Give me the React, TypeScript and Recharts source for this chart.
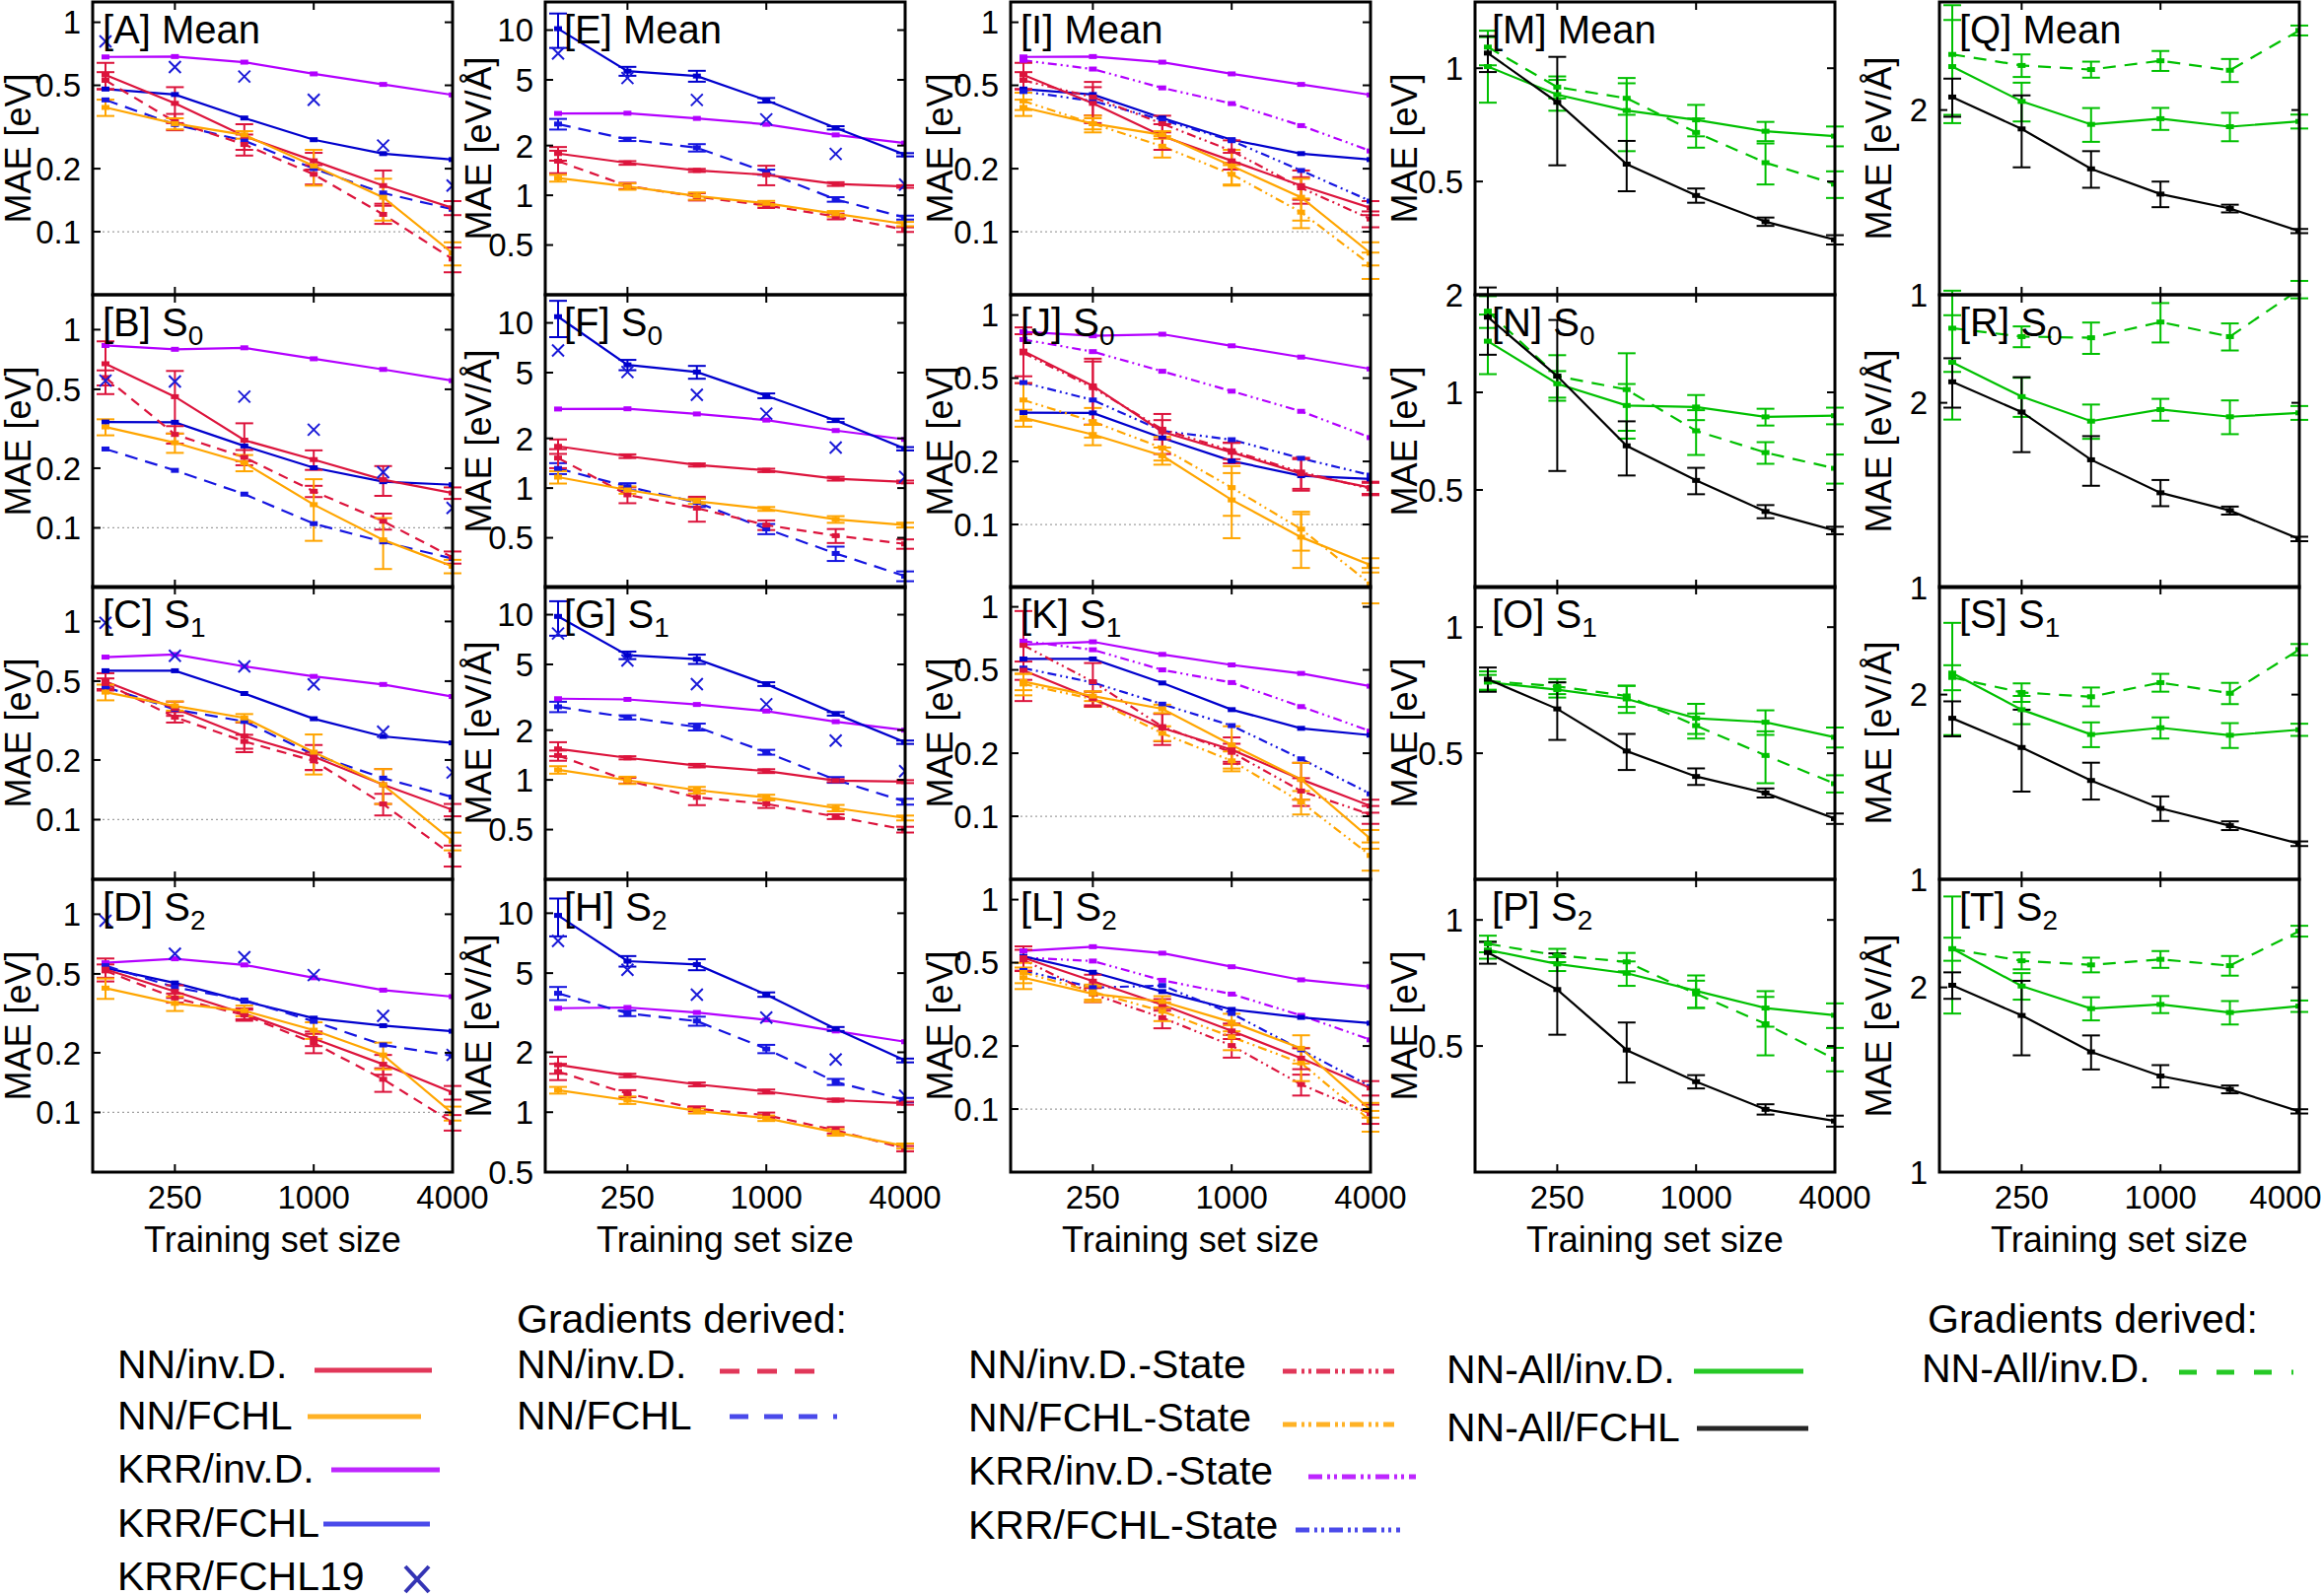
import React from 'react';
import { LineChart, Line, XAxis, YAxis, ErrorBar, ReferenceLine } from 'recharts';

const FONT = '"Liberation Sans", Arial, Helvetica, sans-serif';
const W = 2355;
const H = 1619;
const COL_LEFT = [94, 553, 1025, 1496, 1967];
const ROW_TOP = [2, 299, 595, 892];
const PW = 365;
const PH = 297;
const YW = 90;
const XH = 70;
const TM = 24;
const XR = 50;
const TICK = 8;

// training set sizes (x) and tick labels
const N = [125, 250, 500, 1000, 2000, 4000];
const X_TICKS = [250, 1000, 4000];
const X_DOMAIN = [110, 4000];
const E_TICKS = [0.1, 0.2, 0.5, 1];
const F_TICKS = [0.5, 1, 2, 5, 10];
const M_TICKS = [0.5, 1, 2];
const Q_TICKS = [1, 2];

// ---- energies, NN / KRR (panels A-D, reused for I-L) ----
const nnInvA = [0.56, 0.41, 0.286, 0.218, 0.166, 0.13];
const nnInvA_e = [0.08, 0.08, 0.04, 0.02, 0.03, 0.01];
const nnFchlA = [0.392, 0.328, 0.29, 0.206, 0.146, 0.079];
const nnFchlA_e = [0.035, 0.02, 0.012, 0.04, 0.033, 0.01];
const krrInvA = [0.683, 0.686, 0.645, 0.567, 0.505, 0.45];
const krrFchlA = [0.48, 0.452, 0.349, 0.275, 0.236, 0.221];
const fchl19A = [0.81, 0.611, 0.551, 0.426, 0.258, 0.166];
const gdInvA = [0.528, 0.335, 0.261, 0.188, 0.121, 0.074];
const gdInvA_e = [0.05, 0.03, 0.03, 0.02, 0.012, 0.01];
const gdFchlA = [0.426, 0.325, 0.272, 0.2, 0.153, 0.128];

const nnInvB = [0.673, 0.459, 0.277, 0.221, 0.175, 0.15];
const nnInvB_e = [0.2, 0.16, 0.06, 0.025, 0.03, 0.01];
const nnFchlB = [0.323, 0.269, 0.213, 0.131, 0.087, 0.064];
const nnFchlB_e = [0.03, 0.03, 0.02, 0.045, 0.025, 0.005];
const krrInvB = [0.832, 0.796, 0.81, 0.713, 0.63, 0.553];
const krrFchlB = [0.342, 0.341, 0.259, 0.201, 0.171, 0.165];
const fchl19B = [0.553, 0.548, 0.459, 0.313, 0.191, 0.126];
const gdInvB = [0.573, 0.296, 0.227, 0.153, 0.108, 0.071];
const gdInvB_e = [0.05, 0.03, 0.02, 0.01, 0.01, 0.005];
const gdFchlB = [0.25, 0.195, 0.148, 0.105, 0.085, 0.07];

const nnInvC = [0.498, 0.364, 0.264, 0.208, 0.15, 0.112];
const nnInvC_e = [0.05, 0.03, 0.045, 0.03, 0.03, 0.008];
const nnFchlC = [0.44, 0.375, 0.326, 0.219, 0.15, 0.078];
const nnFchlC_e = [0.04, 0.02, 0.015, 0.05, 0.03, 0.008];
const krrInvC = [0.661, 0.681, 0.593, 0.528, 0.481, 0.418];
const krrFchlC = [0.564, 0.564, 0.433, 0.323, 0.263, 0.244];
const fchl19C = [0.985, 0.671, 0.593, 0.481, 0.278, 0.173];
const gdInvC = [0.486, 0.329, 0.248, 0.198, 0.12, 0.066];
const gdInvC_e = [0.03, 0.02, 0.02, 0.02, 0.015, 0.008];
const gdFchlC = [0.467, 0.36, 0.313, 0.213, 0.162, 0.13];

const nnInvD = [0.528, 0.408, 0.315, 0.236, 0.175, 0.126];
const nnInvD_e = [0.07, 0.03, 0.02, 0.02, 0.02, 0.01];
const nnFchlD = [0.424, 0.355, 0.326, 0.26, 0.195, 0.099];
const nnFchlD_e = [0.05, 0.03, 0.02, 0.025, 0.03, 0.008];
const krrInvD = [0.569, 0.596, 0.555, 0.478, 0.414, 0.384];
const krrFchlD = [0.536, 0.45, 0.364, 0.299, 0.274, 0.257];
const fchl19D = [0.928, 0.632, 0.607, 0.493, 0.307, 0.195];
const gdInvD = [0.518, 0.378, 0.31, 0.224, 0.147, 0.089];
const gdInvD_e = [0.04, 0.02, 0.02, 0.025, 0.02, 0.008];
const gdFchlD = [0.55, 0.428, 0.369, 0.288, 0.219, 0.193];

// ---- forces (panels E-H) ----
const nnInvE = [1.79, 1.57, 1.415, 1.33, 1.17, 1.13];
const nnInvE_e = [0.17, 0.04, 0.03, 0.18, 0.03, 0.02];
const nnFchlE = [1.27, 1.13, 0.99, 0.895, 0.773, 0.67];
const nnFchlE_e = [0.06, 0.05, 0.05, 0.03, 0.03, 0.02];
const krrInvE = [3.13, 3.14, 2.92, 2.69, 2.32, 2.07];
const krrFchlE = [10.2, 5.64, 5.27, 3.76, 2.56, 1.76];
const krrFchlE_e = [2.4, 0.35, 0.4, 0.12, 0.06, 0.04];
const fchl19E = [7.22, 5.13, 3.78, 2.88, 1.78, 1.16];
const gdInvE = [1.61, 1.14, 0.98, 0.868, 0.745, 0.62];
const gdInvE_e = [0.25, 0.05, 0.05, 0.03, 0.03, 0.02];
const gdFchlE = [2.7, 2.18, 1.94, 1.38, 0.944, 0.733];
const gdFchlE_e = [0.2, 0.05, 0.1, 0.05, 0.03, 0.02];

const nnInvF = [1.79, 1.56, 1.38, 1.28, 1.14, 1.09];
const nnInvF_e = [0.18, 0.04, 0.03, 0.03, 0.03, 0.02];
const nnFchlF = [1.165, 0.974, 0.832, 0.748, 0.646, 0.597];
const nnFchlF_e = [0.1, 0.05, 0.03, 0.02, 0.03, 0.02];
const krrInvF = [3.01, 3.02, 2.81, 2.58, 2.23, 1.97];
const krrFchlF = [10.9, 5.57, 5.04, 3.62, 2.57, 1.73];
const krrFchlF_e = [2.7, 0.4, 0.45, 0.12, 0.06, 0.04];
const fchl19F = [6.81, 5.04, 3.67, 2.82, 1.76, 1.17];
const gdInvF = [1.52, 0.91, 0.756, 0.597, 0.515, 0.459];
const gdInvF_e = [0.2, 0.1, 0.13, 0.04, 0.05, 0.03];
const gdFchlF = [1.315, 1.02, 0.819, 0.566, 0.402, 0.293];
const gdFchlF_e = [0.1, 0.05, 0.05, 0.04, 0.04, 0.02];

const nnInvG = [1.54, 1.36, 1.22, 1.13, 0.99, 0.976];
const nnInvG_e = [0.15, 0.03, 0.03, 0.03, 0.02, 0.02];
const nnFchlG = [1.15, 0.995, 0.867, 0.783, 0.675, 0.588];
const nnFchlG_e = [0.06, 0.05, 0.04, 0.03, 0.03, 0.02];
const krrInvG = [3.1, 3.07, 2.86, 2.61, 2.25, 2.0];
const krrFchlG = [9.76, 5.68, 5.38, 3.8, 2.51, 1.69];
const krrFchlG_e = [2.3, 0.3, 0.35, 0.1, 0.06, 0.04];
const fchl19G = [7.69, 5.28, 3.8, 2.87, 1.73, 1.13];
const gdInvG = [1.405, 0.99, 0.783, 0.716, 0.599, 0.5];
const gdInvG_e = [0.1, 0.04, 0.08, 0.04, 0.02, 0.02];
const gdFchlG = [2.77, 2.39, 2.09, 1.47, 1.0, 0.738];
const gdFchlG_e = [0.2, 0.07, 0.1, 0.05, 0.04, 0.03];

const nnInvH = [1.73, 1.53, 1.38, 1.27, 1.15, 1.11];
const nnInvH_e = [0.17, 0.03, 0.03, 0.03, 0.02, 0.02];
const nnFchlH = [1.29, 1.15, 1.015, 0.933, 0.792, 0.676];
const nnFchlH_e = [0.05, 0.05, 0.03, 0.03, 0.03, 0.02];
const krrInvH = [3.33, 3.36, 3.17, 2.91, 2.56, 2.26];
const krrFchlH = [9.75, 5.74, 5.52, 3.9, 2.62, 1.82];
const krrFchlH_e = [2.1, 0.35, 0.35, 0.1, 0.06, 0.04];
const fchl19H = [7.25, 5.2, 3.9, 2.99, 1.84, 1.21];
const gdInvH = [1.6, 1.24, 1.04, 0.966, 0.812, 0.656];
const gdInvH_e = [0.15, 0.05, 0.03, 0.03, 0.03, 0.02];
const gdFchlH = [3.96, 3.14, 2.87, 2.08, 1.42, 1.15];
const gdFchlH_e = [0.3, 0.1, 0.15, 0.1, 0.05, 0.03];

// ---- state-specific models (panels I-L) ----
const redStI = [0.528, 0.439, 0.328, 0.243, 0.162, 0.115];
const redStI_e = [0.05, 0.08, 0.03, 0.03, 0.02, 0.01];
const orStI = [0.421, 0.328, 0.256, 0.188, 0.124, 0.0695];
const orStI_e = [0.04, 0.03, 0.03, 0.02, 0.02, 0.01];
const magStI = [0.658, 0.598, 0.486, 0.409, 0.321, 0.243];
const bluStI = [0.467, 0.421, 0.342, 0.272, 0.196, 0.14];

const redStJ = [0.66, 0.45, 0.285, 0.225, 0.178, 0.148];
const redStJ_e = [0.15, 0.15, 0.03, 0.02, 0.03, 0.01];
const orStJ = [0.393, 0.31, 0.232, 0.15, 0.095, 0.052];
const orStJ_e = [0.08, 0.05, 0.03, 0.04, 0.02, 0.01];
const magStJ = [0.764, 0.669, 0.539, 0.433, 0.347, 0.26];
const bluStJ = [0.476, 0.393, 0.28, 0.254, 0.207, 0.172];

const redStK = [0.655, 0.439, 0.268, 0.202, 0.132, 0.102];
const redStK_e = [0.3, 0.1, 0.04, 0.02, 0.02, 0.01];
const orStK = [0.428, 0.363, 0.249, 0.184, 0.117, 0.065];
const orStK_e = [0.05, 0.03, 0.02, 0.02, 0.015, 0.01];
const magStK = [0.686, 0.624, 0.5, 0.435, 0.334, 0.255];
const bluStK = [0.51, 0.435, 0.343, 0.271, 0.188, 0.128];

const redStL = [0.516, 0.354, 0.273, 0.201, 0.131, 0.095];
const redStL_e = [0.06, 0.03, 0.03, 0.025, 0.015, 0.01];
const orStL = [0.449, 0.363, 0.293, 0.221, 0.166, 0.088];
const orStL_e = [0.05, 0.03, 0.03, 0.03, 0.03, 0.01];
const magStL = [0.529, 0.509, 0.412, 0.354, 0.28, 0.214];
const bluStL = [0.459, 0.38, 0.389, 0.286, 0.192, 0.128];

// ---- NN-All energies (panels M-P) ----
const blackM = [1.097, 0.812, 0.556, 0.459, 0.391, 0.35];
const blackM_e = [0.12, 0.26, 0.085, 0.02, 0.01, 0.01];
const greenM = [1.01, 0.851, 0.772, 0.729, 0.68, 0.66];
const greenM_e = [0.2, 0.08, 0.17, 0.07, 0.04, 0.04];
const gdGreenM = [1.138, 0.891, 0.832, 0.675, 0.561, 0.492];
const gdGreenM_e = [0.12, 0.06, 0.08, 0.06, 0.07, 0.04];

const blackN = [1.706, 1.122, 0.684, 0.535, 0.429, 0.375];
const blackN_e = [0.4, 0.55, 0.13, 0.05, 0.02, 0.01];
const greenN = [1.438, 1.063, 0.911, 0.901, 0.84, 0.847];
const greenN_e = [0.3, 0.1, 0.15, 0.08, 0.05, 0.05];
const gdGreenN = [1.78, 1.122, 1.02, 0.761, 0.652, 0.583];
const gdGreenN_e = [0.2, 0.18, 0.3, 0.12, 0.05, 0.06];

const blackO = [0.751, 0.638, 0.506, 0.44, 0.402, 0.349];
const blackO_e = [0.05, 0.1, 0.05, 0.02, 0.01, 0.01];
const greenO = [0.739, 0.709, 0.674, 0.606, 0.593, 0.546];
const greenO_e = [0.03, 0.03, 0.05, 0.05, 0.04, 0.03];
const gdGreenO = [0.744, 0.722, 0.685, 0.582, 0.494, 0.423];
const gdGreenO_e = [0.04, 0.03, 0.04, 0.04, 0.07, 0.02];

const blackP = [0.836, 0.682, 0.489, 0.411, 0.353, 0.331];
const blackP_e = [0.05, 0.15, 0.08, 0.015, 0.01, 0.01];
const greenP = [0.848, 0.785, 0.746, 0.677, 0.616, 0.592];
const greenP_e = [0.04, 0.03, 0.05, 0.06, 0.06, 0.04];
const gdGreenP = [0.877, 0.823, 0.794, 0.666, 0.565, 0.465];
const gdGreenP_e = [0.04, 0.03, 0.04, 0.05, 0.09, 0.03];

// ---- NN-All forces (panels Q-T) ----
const blackQ = [2.1, 1.863, 1.604, 1.459, 1.382, 1.27];
const blackQ_e = [0.15, 0.25, 0.11, 0.07, 0.02, 0.01];
const greenQ = [2.354, 2.066, 1.895, 1.936, 1.879, 1.916];
const greenQ_e = [0.45, 0.15, 0.12, 0.08, 0.1, 0.05];
const gdGreenQ = [2.464, 2.364, 2.328, 2.406, 2.322, 2.696];
const gdGreenQ_e = [0.5, 0.1, 0.07, 0.09, 0.1, 0.05];

const blackR = [2.164, 1.932, 1.615, 1.427, 1.335, 1.2];
const blackR_e = [0.2, 0.27, 0.15, 0.07, 0.02, 0.01];
const greenR = [2.328, 2.047, 1.867, 1.95, 1.898, 1.926];
const greenR_e = [0.45, 0.15, 0.12, 0.08, 0.12, 0.05];
const gdGreenR = [2.646, 2.564, 2.553, 2.708, 2.564, 3.06];
const gdGreenR_e = [0.4, 0.1, 0.15, 0.2, 0.13, 0.1];

const blackS = [1.83, 1.64, 1.449, 1.305, 1.223, 1.143];
const blackS_e = [0.12, 0.25, 0.1, 0.06, 0.02, 0.01];
const greenS = [2.168, 1.89, 1.722, 1.766, 1.717, 1.753];
const greenS_e = [0.45, 0.1, 0.08, 0.07, 0.08, 0.04];
const gdGreenS = [2.133, 2.016, 1.984, 2.092, 2.01, 2.368];
const gdGreenS_e = [0.1, 0.07, 0.07, 0.07, 0.08, 0.05];

const blackT = [2.016, 1.8, 1.57, 1.434, 1.364, 1.256];
const blackT_e = [0.1, 0.25, 0.1, 0.06, 0.02, 0.01];
const greenT = [2.313, 2.01, 1.847, 1.876, 1.82, 1.864];
const greenT_e = [0.5, 0.1, 0.08, 0.06, 0.08, 0.04];
const gdGreenT = [2.31, 2.21, 2.176, 2.222, 2.17, 2.47];
const gdGreenT_e = [0.1, 0.07, 0.06, 0.07, 0.08, 0.05];

const C = {
  red: '#dc143c',
  orange: '#ffa500',
  magenta: '#b300ff',
  blue: '#0000cd',
  blueX: '#1a1ad8',
  blueDash: '#1515e0',
  green: '#00c000',
  black: '#000000',
};
const DASH_R = '10 7';
const DASH_B = '13 8';
const DASH_DD = '9 4 2 4 2 4';
const DASH_G = '13 9';

type S = { key: string; v: number[]; e?: number[]; color: string; dash?: string; cross?: boolean };
type PanelDef = {
  letter: string;
  name: string;
  sub?: string;
  col: number;
  row: number;
  domain: [number, number];
  ticks: number[];
  ref01?: boolean;
  series: S[];
};

const col12 = (d: any): S[] => [
  { key: 'krrInv', v: d.krrInv, color: C.magenta },
  { key: 'krrFchl', v: d.krrFchl, e: d.krrFchlE, color: C.blue },
  { key: 'gdFchl', v: d.gdFchl, e: d.gdFchlE, color: C.blueDash, dash: DASH_B },
  { key: 'gdInv', v: d.gdInv, e: d.gdInvE, color: C.red, dash: DASH_R },
  { key: 'nnInv', v: d.nnInv, e: d.nnInvE, color: C.red },
  { key: 'nnFchl', v: d.nnFchl, e: d.nnFchlE, color: C.orange },
  { key: 'fchl19', v: d.fchl19, color: C.blueX, cross: true },
];

const col3 = (d: any): S[] => [
  { key: 'krrInv', v: d.krrInv, color: C.magenta },
  { key: 'magSt', v: d.magSt, color: C.magenta, dash: DASH_DD },
  { key: 'krrFchl', v: d.krrFchl, color: C.blue },
  { key: 'bluSt', v: d.bluSt, color: C.blueDash, dash: DASH_DD },
  { key: 'redSt', v: d.redSt, e: d.redStE, color: C.red, dash: DASH_DD },
  { key: 'orSt', v: d.orSt, e: d.orStE, color: C.orange, dash: DASH_DD },
  { key: 'nnInv', v: d.nnInv, e: d.nnInvE, color: C.red },
  { key: 'nnFchl', v: d.nnFchl, e: d.nnFchlE, color: C.orange },
];

const col45 = (d: any): S[] => [
  { key: 'gdGreen', v: d.gdGreen, e: d.gdGreenE, color: C.green, dash: DASH_G },
  { key: 'green', v: d.green, e: d.greenE, color: C.green },
  { key: 'black', v: d.black, e: d.blackE, color: C.black },
];

const PANELS: PanelDef[] = [
  { letter: 'A', name: 'Mean', col: 0, row: 0, domain: [0.05, 1.25], ticks: E_TICKS, ref01: true,
    series: col12({ krrInv: krrInvA, krrFchl: krrFchlA, gdFchl: gdFchlA, gdInv: gdInvA, gdInvE: gdInvA_e, nnInv: nnInvA, nnInvE: nnInvA_e, nnFchl: nnFchlA, nnFchlE: nnFchlA_e, fchl19: fchl19A }) },
  { letter: 'B', name: 'S', sub: '0', col: 0, row: 1, domain: [0.05, 1.5], ticks: E_TICKS, ref01: true,
    series: col12({ krrInv: krrInvB, krrFchl: krrFchlB, gdFchl: gdFchlB, gdInv: gdInvB, gdInvE: gdInvB_e, nnInv: nnInvB, nnInvE: nnInvB_e, nnFchl: nnFchlB, nnFchlE: nnFchlB_e, fchl19: fchl19B }) },
  { letter: 'C', name: 'S', sub: '1', col: 0, row: 2, domain: [0.05, 1.5], ticks: E_TICKS, ref01: true,
    series: col12({ krrInv: krrInvC, krrFchl: krrFchlC, gdFchl: gdFchlC, gdInv: gdInvC, gdInvE: gdInvC_e, nnInv: nnInvC, nnInvE: nnInvC_e, nnFchl: nnFchlC, nnFchlE: nnFchlC_e, fchl19: fchl19C }) },
  { letter: 'D', name: 'S', sub: '2', col: 0, row: 3, domain: [0.05, 1.5], ticks: E_TICKS, ref01: true,
    series: col12({ krrInv: krrInvD, krrFchl: krrFchlD, gdFchl: gdFchlD, gdInv: gdInvD, gdInvE: gdInvD_e, nnInv: nnInvD, nnInvE: nnInvD_e, nnFchl: nnFchlD, nnFchlE: nnFchlD_e, fchl19: fchl19D }) },

  { letter: 'E', name: 'Mean', col: 1, row: 0, domain: [0.25, 14.8], ticks: F_TICKS,
    series: col12({ krrInv: krrInvE, krrFchl: krrFchlE, krrFchlE: krrFchlE_e, gdFchl: gdFchlE, gdFchlE: gdFchlE_e, gdInv: gdInvE, gdInvE: gdInvE_e, nnInv: nnInvE, nnInvE: nnInvE_e, nnFchl: nnFchlE, nnFchlE: nnFchlE_e, fchl19: fchl19E }) },
  { letter: 'F', name: 'S', sub: '0', col: 1, row: 1, domain: [0.25, 14.8], ticks: F_TICKS,
    series: col12({ krrInv: krrInvF, krrFchl: krrFchlF, krrFchlE: krrFchlF_e, gdFchl: gdFchlF, gdFchlE: gdFchlF_e, gdInv: gdInvF, gdInvE: gdInvF_e, nnInv: nnInvF, nnInvE: nnInvF_e, nnFchl: nnFchlF, nnFchlE: nnFchlF_e, fchl19: fchl19F }) },
  { letter: 'G', name: 'S', sub: '1', col: 1, row: 2, domain: [0.25, 14.8], ticks: F_TICKS,
    series: col12({ krrInv: krrInvG, krrFchl: krrFchlG, krrFchlE: krrFchlG_e, gdFchl: gdFchlG, gdFchlE: gdFchlG_e, gdInv: gdInvG, gdInvE: gdInvG_e, nnInv: nnInvG, nnInvE: nnInvG_e, nnFchl: nnFchlG, nnFchlE: nnFchlG_e, fchl19: fchl19G }) },
  { letter: 'H', name: 'S', sub: '2', col: 1, row: 3, domain: [0.5, 14.8], ticks: F_TICKS,
    series: col12({ krrInv: krrInvH, krrFchl: krrFchlH, krrFchlE: krrFchlH_e, gdFchl: gdFchlH, gdFchlE: gdFchlH_e, gdInv: gdInvH, gdInvE: gdInvH_e, nnInv: nnInvH, nnInvE: nnInvH_e, nnFchl: nnFchlH, nnFchlE: nnFchlH_e, fchl19: fchl19H }) },

  { letter: 'I', name: 'Mean', col: 2, row: 0, domain: [0.05, 1.25], ticks: E_TICKS, ref01: true,
    series: col3({ krrInv: krrInvA, krrFchl: krrFchlA, nnInv: nnInvA, nnInvE: nnInvA_e, nnFchl: nnFchlA, nnFchlE: nnFchlA_e, magSt: magStI, bluSt: bluStI, redSt: redStI, redStE: redStI_e, orSt: orStI, orStE: orStI_e }) },
  { letter: 'J', name: 'S', sub: '0', col: 2, row: 1, domain: [0.05, 1.25], ticks: E_TICKS, ref01: true,
    series: col3({ krrInv: krrInvB, krrFchl: krrFchlB, nnInv: nnInvB, nnInvE: nnInvB_e, nnFchl: nnFchlB, nnFchlE: nnFchlB_e, magSt: magStJ, bluSt: bluStJ, redSt: redStJ, redStE: redStJ_e, orSt: orStJ, orStE: orStJ_e }) },
  { letter: 'K', name: 'S', sub: '1', col: 2, row: 2, domain: [0.05, 1.25], ticks: E_TICKS, ref01: true,
    series: col3({ krrInv: krrInvC, krrFchl: krrFchlC, nnInv: nnInvC, nnInvE: nnInvC_e, nnFchl: nnFchlC, nnFchlE: nnFchlC_e, magSt: magStK, bluSt: bluStK, redSt: redStK, redStE: redStK_e, orSt: orStK, orStE: orStK_e }) },
  { letter: 'L', name: 'S', sub: '2', col: 2, row: 3, domain: [0.05, 1.25], ticks: E_TICKS, ref01: true,
    series: col3({ krrInv: krrInvD, krrFchl: krrFchlD, nnInv: nnInvD, nnInvE: nnInvD_e, nnFchl: nnFchlD, nnFchlE: nnFchlD_e, magSt: magStL, bluSt: bluStL, redSt: redStL, redStE: redStL_e, orSt: orStL, orStE: orStL_e }) },

  { letter: 'M', name: 'Mean', col: 3, row: 0, domain: [0.25, 1.5], ticks: M_TICKS,
    series: col45({ black: blackM, blackE: blackM_e, green: greenM, greenE: greenM_e, gdGreen: gdGreenM, gdGreenE: gdGreenM_e }) },
  { letter: 'N', name: 'S', sub: '0', col: 3, row: 1, domain: [0.25, 2], ticks: M_TICKS,
    series: col45({ black: blackN, blackE: blackN_e, green: greenN, greenE: greenN_e, gdGreen: gdGreenN, gdGreenE: gdGreenN_e }) },
  { letter: 'O', name: 'S', sub: '1', col: 3, row: 2, domain: [0.25, 1.25], ticks: M_TICKS,
    series: col45({ black: blackO, blackE: blackO_e, green: greenO, greenE: greenO_e, gdGreen: gdGreenO, gdGreenE: gdGreenO_e }) },
  { letter: 'P', name: 'S', sub: '2', col: 3, row: 3, domain: [0.25, 1.25], ticks: M_TICKS,
    series: col45({ black: blackP, blackE: blackP_e, green: greenP, greenE: greenP_e, gdGreen: gdGreenP, gdGreenE: gdGreenP_e }) },

  { letter: 'Q', name: 'Mean', col: 4, row: 0, domain: [1, 3], ticks: Q_TICKS,
    series: col45({ black: blackQ, blackE: blackQ_e, green: greenQ, greenE: greenQ_e, gdGreen: gdGreenQ, gdGreenE: gdGreenQ_e }) },
  { letter: 'R', name: 'S', sub: '0', col: 4, row: 1, domain: [1, 3], ticks: Q_TICKS,
    series: col45({ black: blackR, blackE: blackR_e, green: greenR, greenE: greenR_e, gdGreen: gdGreenR, gdGreenE: gdGreenR_e }) },
  { letter: 'S', name: 'S', sub: '1', col: 4, row: 2, domain: [1, 3], ticks: Q_TICKS,
    series: col45({ black: blackS, blackE: blackS_e, green: greenS, greenE: greenS_e, gdGreen: gdGreenS, gdGreenE: gdGreenS_e }) },
  { letter: 'T', name: 'S', sub: '2', col: 4, row: 3, domain: [1, 3], ticks: Q_TICKS,
    series: col45({ black: blackT, blackE: blackT_e, green: greenT, greenE: greenT_e, gdGreen: gdGreenT, gdGreenE: gdGreenT_e }) },
];

const Y_LABEL = ['MAE [eV]', 'MAE [eV/Å]', 'MAE [eV]', 'MAE [eV]', 'MAE [eV/Å]'];
const Y_LABEL_OFF = [76, 68, 72, 72, 62];
const TITLE_OFF = [10, 19, 10, 17, 20];

const capDot = (color: string) => (p: any) => {
  if (p.cx == null || p.cy == null) return <g key={`c${p.index}`} />;
  return <rect key={`c${p.index}`} x={p.cx - 4} y={p.cy - 2.5} width={8} height={5} fill={color} />;
};

const crossDot = (color: string) => (p: any) => {
  if (p.cx == null || p.cy == null) return <g key={`x${p.index}`} />;
  const s = 6;
  return (
    <path
      key={`x${p.index}`}
      d={`M${p.cx - s},${p.cy - s}L${p.cx + s},${p.cy + s}M${p.cx - s},${p.cy + s}L${p.cx + s},${p.cy - s}`}
      stroke={color}
      strokeWidth={2}
      fill="none"
    />
  );
};

function Panel({ p }: { p: PanelDef }) {
  const data = N.map((n, i) => {
    const row: Record<string, number> = { n };
    p.series.forEach((s) => {
      row[s.key] = s.v[i];
      if (s.e) row[s.key + '_e'] = s.e[i];
    });
    return row;
  });
  const bottom = p.row === 3;

  const xTick = (t: any) => {
    const v = t.payload.value;
    const shift = p.col === 4 && v === 4000 ? -14 : 0;
    return (
      <g>
        <line x1={t.x} x2={t.x} y1={TM + PH} y2={TM + PH - TICK} stroke="#000" strokeWidth={2} />
        <line x1={t.x} x2={t.x} y1={TM} y2={TM + TICK} stroke="#000" strokeWidth={2} />
        {bottom && (
          <text x={t.x + shift} y={TM + PH + 37} textAnchor="middle" fontSize={33} fontFamily={FONT} fill="#000">
            {v}
          </text>
        )}
      </g>
    );
  };

  const yTick = (t: any) => (
    <g>
      <line x1={YW} x2={YW + TICK} y1={t.y} y2={t.y} stroke="#000" strokeWidth={2} />
      <line x1={YW + PW} x2={YW + PW - TICK} y1={t.y} y2={t.y} stroke="#000" strokeWidth={2} />
      <text x={YW - 12} y={t.y} dy="0.36em" textAnchor="end" fontSize={33} fontFamily={FONT} fill="#000">
        {t.payload.value}
      </text>
    </g>
  );

  return (
    <div style={{ position: 'absolute', left: COL_LEFT[p.col] - YW, top: ROW_TOP[p.row] - TM }}>
      <LineChart
        width={YW + PW + XR}
        height={TM + PH + XH}
        data={data}
        margin={{ top: TM, right: XR, bottom: 0, left: 0 }}
      >
        <XAxis
          dataKey="n"
          type="number"
          scale="log"
          domain={X_DOMAIN}
          allowDataOverflow
          ticks={X_TICKS}
          interval={0}
          height={XH}
          tick={xTick}
          tickLine={false}
          axisLine={false}
        />
        <YAxis
          type="number"
          scale="log"
          domain={p.domain}
          allowDataOverflow
          ticks={p.ticks}
          interval={0}
          width={YW}
          tick={yTick}
          tickLine={false}
          axisLine={false}
        />
        {p.ref01 && <ReferenceLine y={0.1} stroke="#a0a0a0" strokeDasharray="2 3" strokeWidth={1.2} />}
        {p.series.map((s) => (
          <Line
            key={s.key}
            dataKey={s.key}
            type="linear"
            stroke={s.cross ? 'none' : s.color}
            strokeWidth={2.2}
            strokeDasharray={s.dash}
            dot={s.cross ? crossDot(s.color) : capDot(s.color)}
            activeDot={false}
            isAnimationActive={false}
            legendType="none"
          >
            {s.e && (
              <ErrorBar
                dataKey={s.key + '_e'}
                width={9}
                stroke={s.color}
                strokeWidth={2}
                direction="y"
                isAnimationActive={false}
              />
            )}
          </Line>
        ))}
      </LineChart>
    </div>
  );
}

type LegendItem = { text: string; tx: number; ty: number; x1?: number; x2?: number; ly?: number; color?: string; dash?: string; cross?: boolean };

const LEGEND: LegendItem[] = [
  { text: 'NN/inv.D.', tx: 119, ty: 1383, x1: 319, x2: 438, ly: 1390, color: C.red },
  { text: 'NN/FCHL', tx: 119, ty: 1435, x1: 312, x2: 427, ly: 1437, color: C.orange },
  { text: 'KRR/inv.D.', tx: 119, ty: 1489, x1: 336, x2: 446, ly: 1491, color: C.magenta },
  { text: 'KRR/FCHL', tx: 119, ty: 1544, x1: 328, x2: 436, ly: 1546, color: '#2a2ae6' },
  { text: 'KRR/FCHL19', tx: 119, ty: 1598, x1: 423, ly: 1602, color: '#3434b4', cross: true },
  { text: 'Gradients derived:', tx: 524, ty: 1337 },
  { text: 'NN/inv.D.', tx: 524, ty: 1383, x1: 730, x2: 830, ly: 1391, color: C.red, dash: '20 18' },
  { text: 'NN/FCHL', tx: 524, ty: 1435, x1: 740, x2: 849, ly: 1437, color: '#2a2ae6', dash: '19 16' },
  { text: 'NN/inv.D.-State', tx: 982, ty: 1383, x1: 1301, x2: 1414, ly: 1391, color: C.red, dash: '14 5 3 4 3 5' },
  { text: 'NN/FCHL-State', tx: 982, ty: 1437, x1: 1301, x2: 1414, ly: 1445, color: C.orange, dash: '14 5 3 4 3 5' },
  { text: 'KRR/inv.D.-State', tx: 982, ty: 1491, x1: 1327, x2: 1436, ly: 1498, color: C.magenta, dash: '14 5 3 4 3 5' },
  { text: 'KRR/FCHL-State', tx: 982, ty: 1546, x1: 1314, x2: 1420, ly: 1552, color: '#2a2ae6', dash: '14 5 3 4 3 5' },
  { text: 'NN-All/inv.D.', tx: 1467, ty: 1388, x1: 1718, x2: 1829, ly: 1391, color: C.green },
  { text: 'NN-All/FCHL', tx: 1467, ty: 1447, x1: 1721, x2: 1834, ly: 1449, color: C.black },
  { text: 'Gradients derived:', tx: 1955, ty: 1337 },
  { text: 'NN-All/inv.D.', tx: 1949, ty: 1387, x1: 2210, x2: 2326, ly: 1392, color: C.green, dash: '18 20' },
];

function Overlay() {
  return (
    <svg width={W} height={H} style={{ position: 'absolute', left: 0, top: 0, pointerEvents: 'none' }} fontFamily={FONT}>
      {PANELS.map((p) => (
        <rect
          key={`f${p.letter}`}
          x={COL_LEFT[p.col]}
          y={ROW_TOP[p.row]}
          width={PW}
          height={PH}
          fill="none"
          stroke="#000"
          strokeWidth={3}
        />
      ))}
      {PANELS.map((p) => (
        <text key={`t${p.letter}`} x={COL_LEFT[p.col] + TITLE_OFF[p.col]} y={ROW_TOP[p.row] + 42} fontSize={40} fill="#000">
          <tspan>{`[${p.letter}] ${p.name}`}</tspan>
          {p.sub && (
            <tspan fontSize={28} dy={9}>
              {p.sub}
            </tspan>
          )}
        </text>
      ))}
      {PANELS.map((p) => {
        const cx = COL_LEFT[p.col] - Y_LABEL_OFF[p.col];
        const cy = ROW_TOP[p.row] + PH / 2;
        return (
          <text
            key={`y${p.letter}`}
            transform={`translate(${cx},${cy}) rotate(-90)`}
            textAnchor="middle"
            dy="0.36em"
            fontSize={36}
            fill="#000"
          >
            {Y_LABEL[p.col]}
          </text>
        );
      })}
      {COL_LEFT.map((l, i) => (
        <text key={`xl${i}`} x={l + PW / 2} y={1270} textAnchor="middle" fontSize={36} fill="#000">
          Training set size
        </text>
      ))}
      {LEGEND.map((it, i) => (
        <g key={`lg${i}`}>
          <text x={it.tx} y={it.ty} dy="0.36em" fontSize={41} fill="#000">
            {it.text}
          </text>
          {it.cross && it.x1 != null && it.ly != null && (
            <path
              d={`M${it.x1 - 12},${it.ly - 13}L${it.x1 + 12},${it.ly + 13}M${it.x1 - 12},${it.ly + 13}L${it.x1 + 12},${it.ly - 13}`}
              stroke={it.color}
              strokeWidth={4}
              fill="none"
            />
          )}
          {!it.cross && it.x2 != null && (
            <line
              x1={it.x1}
              x2={it.x2}
              y1={it.ly}
              y2={it.ly}
              stroke={it.color}
              strokeWidth={5}
              strokeDasharray={it.dash}
              strokeOpacity={0.85}
            />
          )}
        </g>
      ))}
    </svg>
  );
}

export default function App() {
  return (
    <div style={{ position: 'absolute', left: 0, top: 0, width: W, height: H, background: '#fff', fontFamily: FONT }}>
      {PANELS.map((p) => (
        <Panel key={p.letter} p={p} />
      ))}
      <Overlay />
    </div>
  );
}
